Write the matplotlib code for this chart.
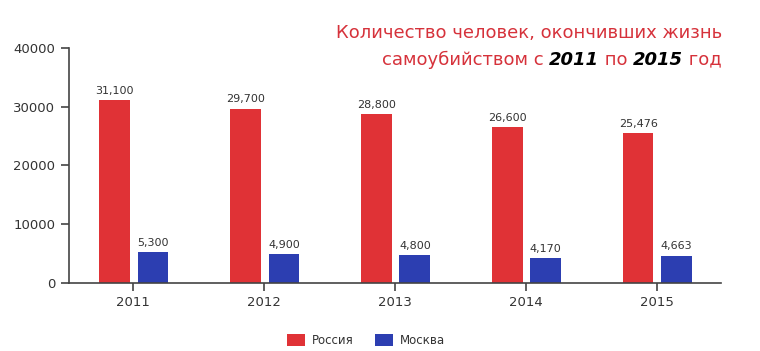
import matplotlib.pyplot as plt
import numpy as np

years = ['2011', '2012', '2013', '2014', '2015']
russia = [31100, 29700, 28800, 26600, 25476]
moscow = [5300, 4900, 4800, 4170, 4663]
russia_labels = ['31,100', '29,700', '28,800', '26,600', '25,476']
moscow_labels = ['5,300', '4,900', '4,800', '4,170', '4,663']

red = '#e03236'
blue = '#2c3eb1'
grey = '#444444'

plt.rcParams['font.family'] = ['DejaVu Sans']

fig = plt.figure(figsize=(7.6, 3.51), dpi=100)
ax = fig.add_axes([0.091, 0.194, 0.858, 0.669])

x = np.arange(len(years))
w = 0.235
b1 = ax.bar(x - 0.145, russia, w, color=red, label='Россия')
b2 = ax.bar(x + 0.15, moscow, w, color=blue, label='Москва')

for rect, lab in zip(b1, russia_labels):
    ax.annotate(lab, (rect.get_x() + rect.get_width() / 2, rect.get_height()),
                xytext=(0, 3), textcoords='offset points', ha='center', va='bottom',
                fontsize=8, color='#333333')
for rect, lab in zip(b2, moscow_labels):
    ax.annotate(lab, (rect.get_x() + rect.get_width() / 2, rect.get_height()),
                xytext=(0, 3), textcoords='offset points', ha='center', va='bottom',
                fontsize=8, color='#333333')

ax.set_xlim(-0.49, 4.49)
ax.set_ylim(0, 40000)
ax.set_yticks([0, 10000, 20000, 30000, 40000])
ax.set_xticks(x)
ax.set_xticklabels(years)
ax.spines['top'].set_visible(False)
ax.spines['right'].set_visible(False)
for s in ['left', 'bottom']:
    ax.spines[s].set_color(grey)
    ax.spines[s].set_linewidth(1.2)
ax.tick_params(axis='both', colors=grey, labelcolor='#333333', labelsize=9.5,
               length=6, width=1.2)
ax.tick_params(axis='y', pad=4)

# title, right aligned, with bold years
tcol = '#d6323b'
fs = 13
fig.text(0.95, 0.905, 'Количество человек, окончивших жизнь', ha='right',
         va='center', fontsize=fs, color=tcol)
t1 = fig.text(0.95, 0.83, ' год', ha='right', va='center', fontsize=fs, color=tcol)
t2 = ax.annotate('2015', xy=(0, 0.5), xycoords=t1, ha='right', va='center',
                 fontsize=fs, color='black', fontweight='bold', fontstyle='italic')
t3 = ax.annotate(' по ', xy=(0, 0.5), xycoords=t2, ha='right', va='center',
                 fontsize=fs, color=tcol)
t4 = ax.annotate('2011', xy=(0, 0.5), xycoords=t3, ha='right', va='center',
                 fontsize=fs, color='black', fontweight='bold', fontstyle='italic')
ax.annotate('самоубийством с ', xy=(0, 0.5), xycoords=t4, ha='right', va='center',
            fontsize=fs, color=tcol)

fig.legend(handles=[b1, b2], loc='center', bbox_to_anchor=(0.482, 0.03), ncol=2,
           frameon=False, fontsize=8.5, handlelength=1.5, handleheight=1.1,
           handletextpad=0.6, columnspacing=1.8, labelcolor='#333333')

fig.savefig('out.png', dpi=100)
